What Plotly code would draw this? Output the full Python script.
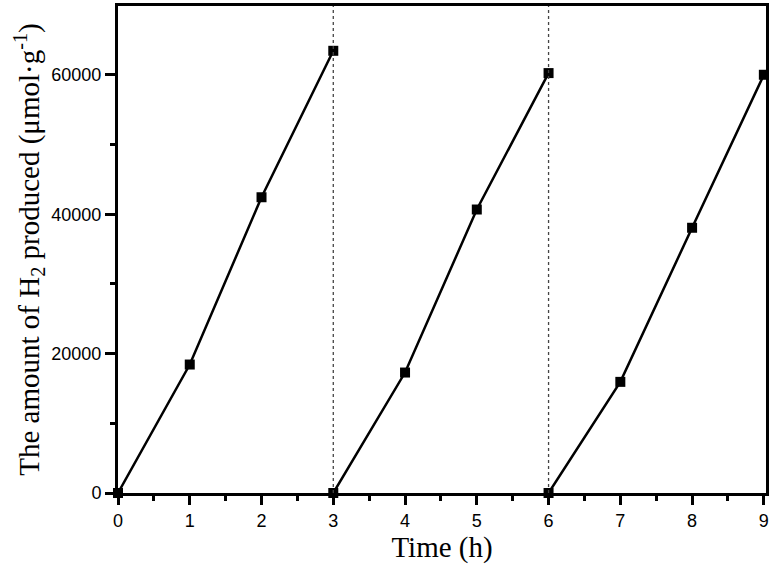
import plotly.graph_objects as go

# three 3-hour cycles of H2 evolution
cycle_times = [[0, 1, 2, 3], [3, 4, 5, 6], [6, 7, 8, 9]]
cycle_h2 = [[0, 18440, 42450, 63470],
            [0, 17290, 40690, 60270],
            [0, 15950, 38070, 60030]]
cycle_breaks = [3, 6]

x_ticks = [0, 1, 2, 3, 4, 5, 6, 7, 8, 9]
y_ticks = [0, 20000, 40000, 60000]

fig = go.Figure()
for t, h in zip(cycle_times, cycle_h2):
    fig.add_trace(go.Scatter(x=t, y=h, mode='lines+markers',
                             line=dict(color='black', width=2.5),
                             marker=dict(symbol='square', size=10, color='black'),
                             cliponaxis=False, showlegend=False))

for b in cycle_breaks:
    fig.add_vline(x=b, line=dict(color='#444', width=1.3, dash='dot'))

tickfont = dict(family='Liberation Sans, Arial', size=18, color='black')
titlefont = dict(family='Liberation Serif, Times New Roman', size=29, color='black')

fig.update_xaxes(range=[0, 9.03], tickvals=x_ticks, ticks='outside', ticklen=9, tickwidth=3,
                 tickcolor='black', showline=True, linewidth=3, linecolor='black', mirror=True,
                 showgrid=False, zeroline=False, tickfont=tickfont,
                 minor=dict(dtick=0.5, ticks='outside', ticklen=5, tickwidth=3, tickcolor='black'),
                 title=dict(text='Time (h)', font=titlefont, standoff=2))
fig.update_yaxes(range=[0, 69900], tickvals=y_ticks, tickformat='d', ticks='outside',
                 ticklen=10, tickwidth=3,
                 tickcolor='black', showline=True, linewidth=3, linecolor='black', mirror=True,
                 showgrid=False, zeroline=False, tickfont=tickfont,
                 minor=dict(tickvals=[10000, 30000, 50000], ticks='outside', ticklen=5,
                            tickwidth=3, tickcolor='black'),
                 title=dict(text='The amount of H<sub>2</sub> produced (μmol·g<sup>-1</sup>)',
                            font=titlefont, standoff=4))

fig.update_layout(width=779, height=568, plot_bgcolor='white', paper_bgcolor='white',
                  margin=dict(l=118, r=13, t=6, b=75, autoexpand=False))

fig.write_html("out.html", config={'displayModeBar': False},
               post_script="document.body.style.margin='0';")
